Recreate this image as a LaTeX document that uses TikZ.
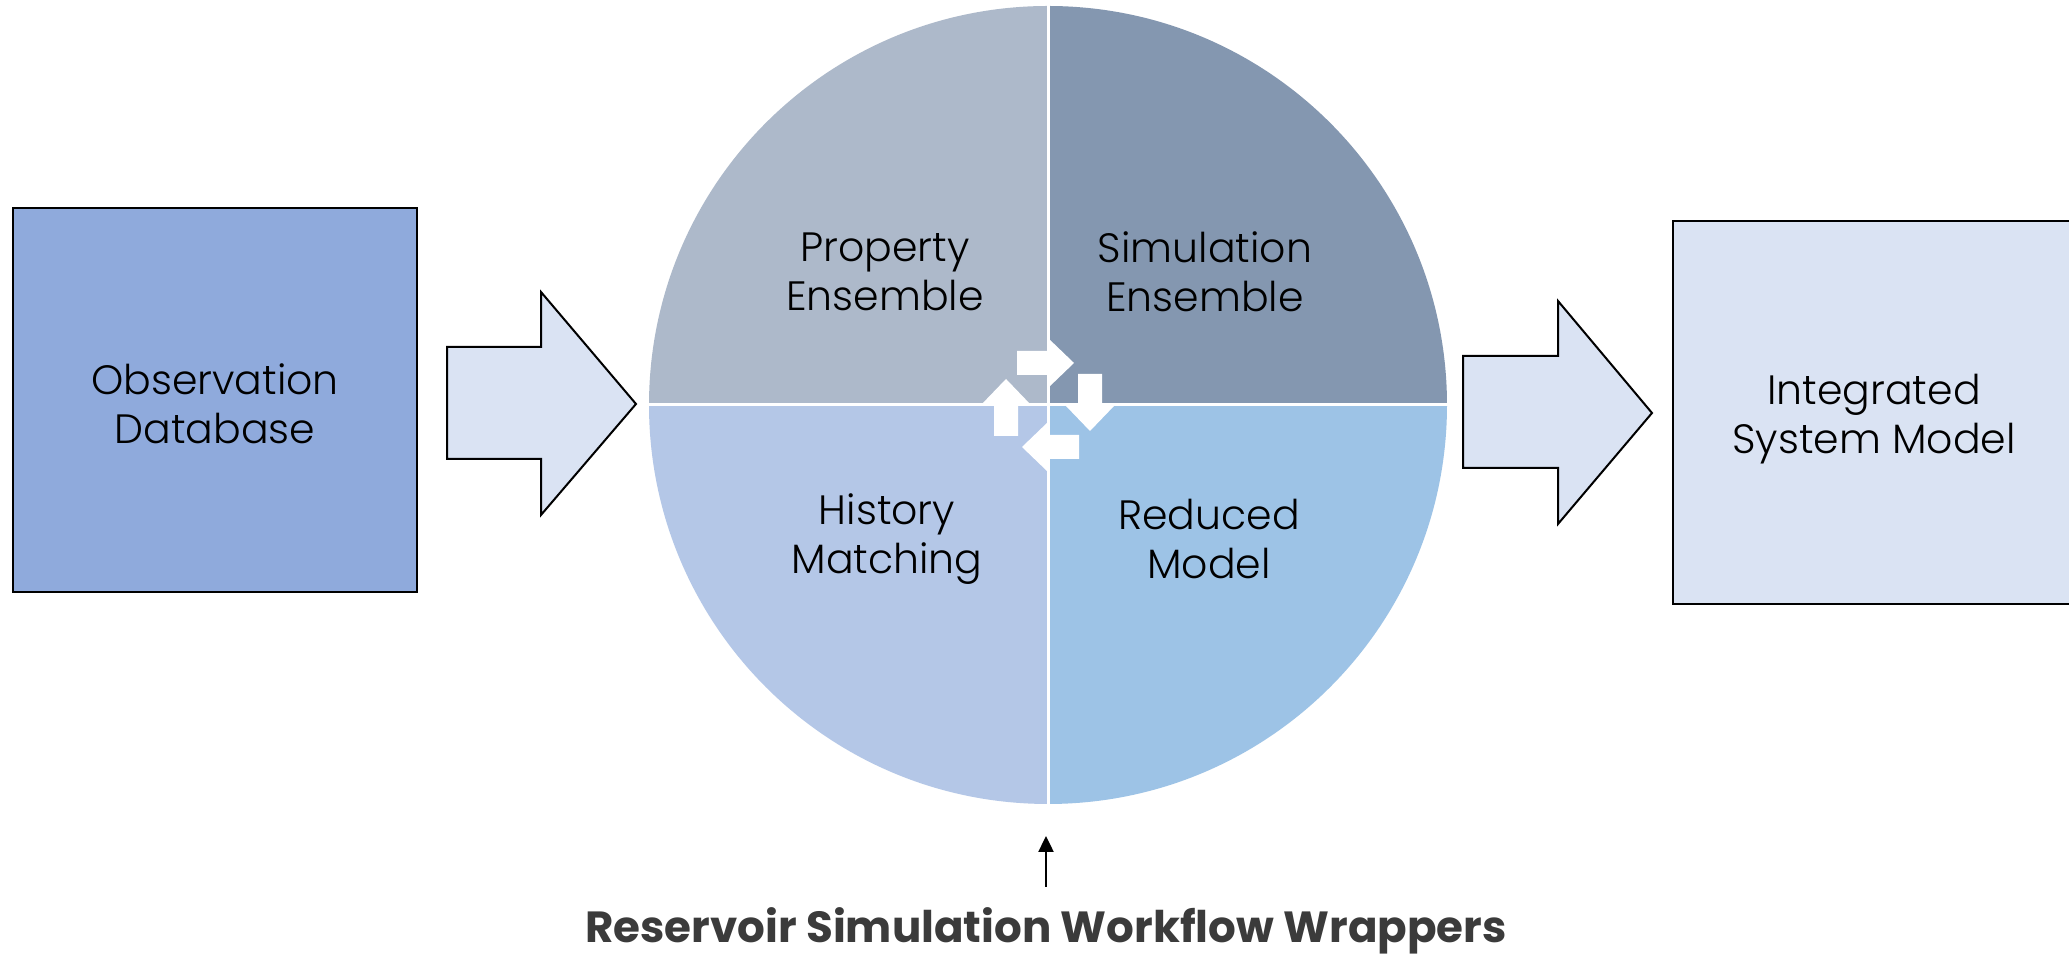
\documentclass[tikz,border=0pt]{standalone}
\usepackage{fontspec}
\setmainfont{Poppins}[UprightFont=* Light, BoldFont=* Bold]
\usetikzlibrary{arrows.meta}

\definecolor{obsFill}{HTML}{8FAADC}
\definecolor{paleFill}{HTML}{DAE3F3}
\definecolor{quadTL}{HTML}{ADB9CA}
\definecolor{quadTR}{HTML}{8497B0}
\definecolor{quadBL}{HTML}{B4C7E7}
\definecolor{quadBR}{HTML}{9DC3E6}
\definecolor{captionGrey}{HTML}{3B3B3B}

\tikzset{
  boxed/.style={draw=black, line width=1.2pt},
  blockarrow/.style={draw=black, fill=paleFill, line width=1pt, line join=miter},
  lbl/.style={font=\fontsize{20.5}{24.5}\selectfont, align=center, text=black, inner sep=0pt},
  gap/.style={draw=white, line width=1.5pt},
  cyclearrow/.style={fill=white},
}

\begin{document}
\begin{tikzpicture}[x=0.5pt, y=0.5pt]
\clip (0,0) rectangle (2069,957);
\fill[white] (0,0) rectangle (2069,957);

% observation database
\filldraw[boxed, fill=obsFill] (13,365) rectangle (417,749);
\node[lbl] (obs) at (215,553) {Observation\\Database};

% block arrow into the wheel
\filldraw[blockarrow] (447,498) -- (541,498) -- (541,442) -- (636,553)
  -- (541,665) -- (541,610) -- (447,610) -- cycle;

% four-quadrant wheel
\coordinate (C) at (1048,552);
\fill[quadTL] (C) -- ++(0,399) arc[start angle=90, end angle=180, radius=199.5pt] -- cycle;
\fill[quadTR] (C) -- ++(399,0) arc[start angle=0, end angle=90, radius=199.5pt] -- cycle;
\fill[quadBL] (C) -- ++(-399,0) arc[start angle=180, end angle=270, radius=199.5pt] -- cycle;
\fill[quadBR] (C) -- ++(0,-399) arc[start angle=270, end angle=360, radius=199.5pt] -- cycle;
\draw[gap] (1048,954) -- (1048,150);
\draw[gap] (646,552) -- (1450,552);

% circulating arrows at the hub
\foreach \a in {0,-90,-180,-270}{
  \begin{scope}[shift={(C)}, rotate=\a]
    \fill[cyclearrow] (-31,30) -- (0,30) -- (0,17) -- (26,42) -- (0,67)
      -- (0,54) -- (-31,54) -- cycle;
  \end{scope}
}

\node[lbl] (prop) at (885,685) {Property\\Ensemble};
\node[lbl] (sim)  at (1205,685) {Simulation\\Ensemble};
\node[lbl] (hist) at (887,418) {History\\Matching};
\node[lbl] (red)  at (1209,418) {Reduced\\Model};

% block arrow out of the wheel
\filldraw[blockarrow] (1463,489) -- (1558,489) -- (1558,433) -- (1652,544)
  -- (1558,656) -- (1558,601) -- (1463,601) -- cycle;

% integrated system model
\filldraw[boxed, fill=paleFill] (1673,353) rectangle (2120,736);
\node[lbl] (ism) at (1874,538) {Integrated\\System Model};

% workflow wrappers caption
\node[font=\fontsize{21.8}{24}\selectfont\bfseries, text=captionGrey, inner sep=0pt, anchor=base]
  (wrap) at (1046,14) {Reservoir Simulation Workflow Wrappers};
\coordinate (wrapTail) at (1046,70);
\coordinate (wrapHead) at (1046,121);
\draw[line width=1.2pt, -{Triangle[length=8pt, width=7.5pt]}] (wrapTail) -- (wrapHead);
\end{tikzpicture}
\end{document}
